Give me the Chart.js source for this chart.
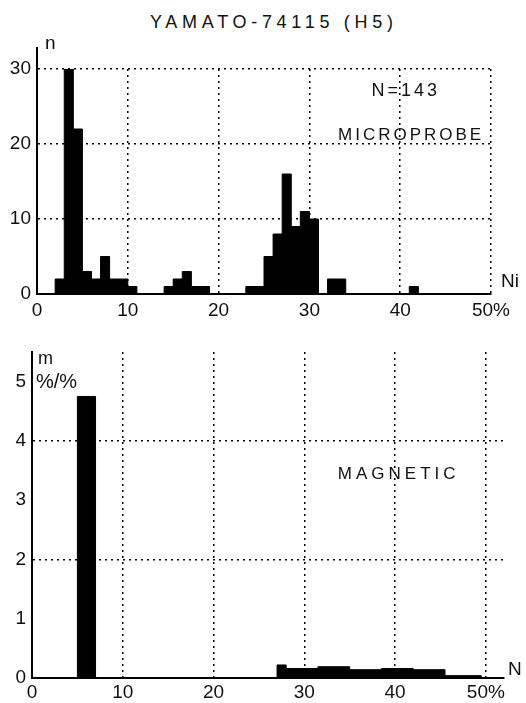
<!DOCTYPE html>
<html>
<head>
<meta charset="utf-8">
<title>YAMATO-74115 (H5)</title>
<script src="https://cdn.jsdelivr.net/npm/chart.js@4.4.1/dist/chart.umd.min.js"></script>
<style>
    html, body { margin: 0; padding: 0; background: #fff; }
    body {
        width: 526px;
        height: 703px;
        position: relative;
        overflow: hidden;
        font-family: 'Liberation Sans', Arial, sans-serif;
        color: #111;
    }
    .chart-title {
        position: absolute;
        top: 13px;
        left: 150px;
        font-size: 18px;
        line-height: 18px;
        letter-spacing: 4.7px;
        white-space: nowrap;
    }
    canvas { position: absolute; left: 0; }
    #microprobeChart { top: 0; }
    #magneticChart { top: 330px; }
</style>
</head>
<body>
<div class="chart-title" id="chartTitle"></div>
<canvas id="microprobeChart" width="526" height="320"></canvas>
<canvas id="magneticChart" width="526" height="373"></canvas>

<script>
// Chart data
const titleText = 'YAMATO-74115 (H5)';

const niTicks = [0, 10, 20, 30, 40, 50];
const countTicks = [0, 10, 20, 30];
const massTicks = [0, 1, 2, 3, 4, 5];

// microprobe: number of grains per 1 % Ni bin (left edge of each bin)
const niBinStarts = [
    0, 1, 2, 3, 4, 5, 6, 7, 8, 9,
    10, 11, 12, 13, 14, 15, 16, 17, 18, 19,
    20, 21, 22, 23, 24, 25, 26, 27, 28, 29,
    30, 31, 32, 33, 34, 35, 36, 37, 38, 39,
    40, 41, 42, 43, 44, 45, 46, 47, 48, 49
];
const microprobeCounts = [
    0, 0, 2, 30, 22, 3, 2, 5, 2, 2,
    1, 0, 0, 0, 1, 2, 3, 1, 1, 0,
    0, 0, 0, 1, 1, 5, 8, 16, 9, 11,
    10, 0, 2, 2, 0, 0, 0, 0, 0, 0,
    0, 1, 0, 0, 0, 0, 0, 0, 0, 0
];
const niAxisEnd = 50;

// magnetic separation: mass % per Ni interval (edges, one value per interval)
const magneticEdges = [0, 5, 7, 27, 28, 31.5, 35, 38.5, 42, 45.5, 49.5, 52];
const magneticPercents = [0, 4.75, 0, 0.22, 0.16, 0.19, 0.14, 0.16, 0.14, 0.04, 0.02];

const labelFont = "'Liberation Sans', Arial, sans-serif";
Chart.defaults.font.family = labelFont;
Chart.defaults.font.size = 19;
Chart.defaults.color = '#111';

// writes axis names and panel notes, and lets the y axis run past its top tick
const panelNotes = {
    id: 'panelNotes',
    afterDraw(chart, args, opts) {
        const { ctx, chartArea, scales } = chart;
        ctx.save();
        if (opts.axisOvershoot) {
            ctx.strokeStyle = '#000';
            ctx.lineWidth = 2;
            ctx.beginPath();
            ctx.moveTo(chartArea.left, chartArea.top - opts.axisOvershoot);
            ctx.lineTo(chartArea.left, chartArea.top);
            ctx.stroke();
        }
        ctx.fillStyle = '#111';
        ctx.textBaseline = 'middle';
        (opts.notes || []).forEach(note => {
            let x, y;
            if (note.value) {
                x = scales.x.getPixelForValue(note.value[0]);
                y = scales.y.getPixelForValue(note.value[1]);
            } else {
                x = (note.edge[0] === 'left' ? chartArea.left : chartArea.right) + note.offset[0];
                y = (note.edge[1] === 'top' ? chartArea.top : chartArea.bottom) + note.offset[1];
            }
            ctx.font = `${note.size || 19}px ${labelFont}`;
            ctx.letterSpacing = (note.spacing || 0) + 'px';
            ctx.textAlign = note.align || 'left';
            ctx.fillText(note.text, x, y);
        });
        ctx.restore();
    }
};

class HistogramPanel {
    constructor(canvasId, setup) {
        this.canvas = document.getElementById(canvasId);
        this.setup = setup;
        this.chart = null;
        this.init();
    }

    init() {
        this.chart = new Chart(this.canvas, this.buildConfig());
    }

    buildPoints() {
        const { edges, values, end } = this.setup;
        const points = edges.map((x, i) => ({ x, y: values[i] }));
        points.push({ x: end, y: 0 });
        return points;
    }

    buildConfig() {
        const s = this.setup;
        const dotted = [2, 4];
        return {
            type: 'line',
            data: {
                datasets: [{
                    data: this.buildPoints(),
                    stepped: true,
                    fill: 'origin',
                    borderColor: '#000',
                    backgroundColor: '#000',
                    borderWidth: 1,
                    pointRadius: 0
                }]
            },
            options: {
                responsive: false,
                animation: false,
                layout: { padding: s.padding },
                plugins: {
                    legend: { display: false },
                    tooltip: { enabled: false },
                    panelNotes: { notes: s.notes, axisOvershoot: s.axisOvershoot }
                },
                scales: {
                    x: {
                        type: 'linear',
                        min: 0,
                        max: s.xMax,
                        afterBuildTicks: scale => { scale.ticks = niTicks.map(v => ({ value: v })); },
                        afterFit: scale => { scale.height = s.xAxisHeight; },
                        ticks: {
                            autoSkip: false,
                            maxRotation: 0,
                            padding: s.xTickPadding,
                            callback: v => (v === 50 ? '50%' : String(v))
                        },
                        grid: {
                            drawTicks: false,
                            lineWidth: 1.5,
                            color: c => (c.tick && c.tick.value > 0 ? '#000' : 'transparent')
                        },
                        border: { display: true, color: '#000', width: 2, dash: dotted }
                    },
                    y: {
                        type: 'linear',
                        min: 0,
                        max: s.yMax,
                        afterBuildTicks: scale => { scale.ticks = s.yTicks.map(v => ({ value: v })); },
                        afterFit: scale => { scale.width = s.yAxisWidth; },
                        ticks: { padding: 6 },
                        grid: {
                            drawTicks: false,
                            lineWidth: 1.5,
                            color: c => (c.tick && s.yGrid.includes(c.tick.value) ? '#000' : 'transparent')
                        },
                        border: { display: true, color: '#000', width: 2, dash: dotted }
                    }
                }
            },
            plugins: [panelNotes]
        };
    }
}

document.addEventListener('DOMContentLoaded', () => {
    document.getElementById('chartTitle').textContent = titleText;

    new HistogramPanel('microprobeChart', {
        edges: niBinStarts,
        values: microprobeCounts,
        end: niAxisEnd,
        xMax: 50,
        yMax: 30,
        yTicks: countTicks,
        yGrid: [10, 20, 30],
        padding: { left: 0, right: 35, top: 69, bottom: 0 },
        xAxisHeight: 26,
        yAxisWidth: 37,
        xTickPadding: 5,
        axisOvershoot: 22,
        notes: [
            { text: 'n', edge: ['left', 'top'], offset: [8, -25] },
            { text: 'Ni', edge: ['right', 'bottom'], offset: [10, -12] },
            { text: 'N=143', value: [40.6, 27], align: 'center', size: 18, spacing: 3 },
            { text: 'MICROPROBE', value: [41.2, 21.2], align: 'center', size: 17, spacing: 3 }
        ]
    });

    new HistogramPanel('magneticChart', {
        edges: magneticEdges,
        values: magneticPercents,
        end: magneticEdges[magneticEdges.length - 1],
        xMax: 52,
        yMax: 5.5,
        yTicks: massTicks,
        yGrid: [2, 4],
        padding: { left: 0, right: 22, top: 22, bottom: 0 },
        xAxisHeight: 25,
        yAxisWidth: 32,
        xTickPadding: 3,
        axisOvershoot: 0,
        notes: [
            { text: 'm', edge: ['left', 'top'], offset: [6, 7], size: 18 },
            { text: '%/%', edge: ['left', 'top'], offset: [4, 30], size: 20 },
            { text: 'N', edge: ['right', 'bottom'], offset: [4, -8] },
            { text: 'MAGNETIC', value: [40.4, 3.43], align: 'center', size: 17, spacing: 4 }
        ]
    });
});
</script>
</body>
</html>
